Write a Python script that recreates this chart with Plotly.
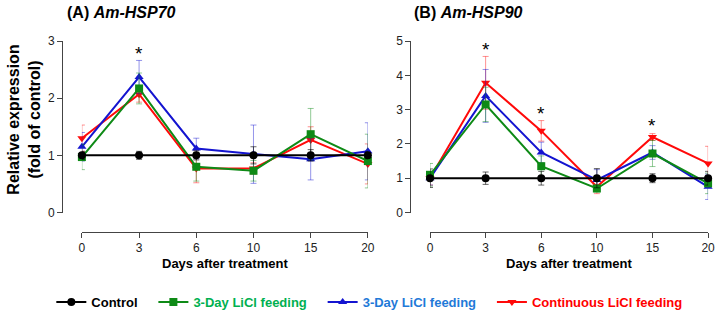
import plotly.graph_objects as go

days = ["0", "3", "6", "10", "15", "20"]
idx = list(range(len(days)))

series_names = ["Control", "3-Day LiCl feeding", "3-Day LiCl feeding", "Continuous LiCl feeding"]

ctrl_A = [1, 1, 1, 1, 1, 1]
ctrl_A_err = [0.07, 0.07, 0.08, 0.15, 0.10, 0.06]
green_A = [0.97, 2.17, 0.80, 0.73, 1.37, 0.90]
green_A_err = [0.22, 0.27, 0.25, 0.18, 0.45, 0.47]
blue_A = [1.15, 2.37, 1.12, 1.02, 0.93, 1.07]
blue_A_err = [0.25, 0.29, 0.18, 0.51, 0.36, 0.50]
red_A = [1.30, 2.07, 0.77, 0.77, 1.27, 0.85]
red_A_err = [0.23, 0.14, 0.25, 0.10, 0.23, 0.35]

ctrl_B = [1, 1, 1, 1, 1, 1]
ctrl_B_err = [0.27, 0.18, 0.20, 0.28, 0.13, 0.20]
green_B = [1.10, 3.15, 1.35, 0.70, 1.72, 0.85]
green_B_err = [0.33, 0.50, 0.30, 0.10, 0.38, 0.30]
blue_B = [1.00, 3.40, 1.75, 0.95, 1.75, 0.75]
blue_B_err = [0.20, 0.77, 0.30, 0.30, 0.20, 0.37]
red_B = [1.00, 3.78, 2.38, 0.75, 2.20, 1.43]
red_B_err = [0.20, 0.77, 0.30, 0.20, 0.10, 0.50]

stars_A = [(1, 2.79)]
stars_B = [(1, 4.74), (2, 2.90), (4, 2.53)]

FONT = "Liberation Sans, Arial, sans-serif"
W, H = 722, 317
ML, MR, MT, MB = 0, 0, 41, 80
PW, PH = W - ML - MR, H - MT - MB

def px(x):
    return (x - ML) / PW

def py(y):
    return (H - MB - y) / PH

styles = [
    dict(line="black", marker="black", sym="circle", err="rgba(0,0,0,0.6)", txt="black"),
    dict(line="#0e8a16", marker="#0e8a16", sym="square", err="rgba(14,138,22,0.45)", txt="#00b050"),
    dict(line="#1414d0", marker="#1414d0", sym="triangle-up", err="rgba(20,20,208,0.45)", txt="#1f7ad8"),
    dict(line="#ff0a0a", marker="#ff0a0a", sym="triangle-down", err="rgba(255,10,10,0.45)", txt="#ff0000"),
]

fig = go.Figure()

panels = [
    ("x", "y", [ctrl_A, green_A, blue_A, red_A], [ctrl_A_err, green_A_err, blue_A_err, red_A_err]),
    ("x2", "y2", [ctrl_B, green_B, blue_B, red_B], [ctrl_B_err, green_B_err, blue_B_err, red_B_err]),
]

pad = "\u00a0\u00a0\u00a0"
draw_order = [3, 2, 1, 0]
for p, (xa, ya, vals, errs) in enumerate(panels):
    for i in draw_order:
        s = styles[i]
        fig.add_trace(go.Scatter(
            x=idx, y=vals[i], xaxis=xa, yaxis=ya,
            mode="lines+markers",
            name=f"<b><span style='color:{s['txt']}'>{series_names[i]}</span></b>{pad}",
            legendgroup=f"g{i}", showlegend=(p == 0), legendrank=i + 1,
            line=dict(color=s["line"], width=2),
            marker=dict(color=s["marker"], symbol=s["sym"], size=8),
            error_y=dict(type="data", array=errs[i], color=s["err"], thickness=1, width=3),
            cliponaxis=False,
        ))

axis_common = dict(showgrid=False, zeroline=False, showline=True, linecolor="#444", linewidth=1,
                   ticks="outside", ticklen=5, tickcolor="#444",
                   tickfont=dict(family=FONT, size=12, color="#222"))

fig.update_layout(
    width=W, height=H,
    margin=dict(l=ML, r=MR, t=MT, b=MB),
    paper_bgcolor="white", plot_bgcolor="white",
    font=dict(family=FONT),
    xaxis=dict(domain=[px(80), px(370)], range=[0, 5], anchor="free", position=0,
               tickvals=idx, ticktext=days, **axis_common),
    yaxis=dict(domain=[py(217), 1], range=[0, 3], anchor="free", position=px(60),
               tickvals=[0, 1, 2, 3], **axis_common),
    xaxis2=dict(domain=[px(433), px(715)], range=[0, 5], anchor="free", position=0,
                tickvals=idx, ticktext=days, **axis_common),
    yaxis2=dict(domain=[py(217), 1], range=[0, 5], anchor="free", position=px(413),
                tickvals=[0, 1, 2, 3, 4, 5], **axis_common),
    legend=dict(orientation="h", x=px(49), y=py(309), xanchor="left", yanchor="middle",
                font=dict(family=FONT, size=13), traceorder="normal", itemwidth=30,
                bgcolor="rgba(0,0,0,0)"),
)

ann = []
for (sx, sy) in stars_A:
    ann.append(dict(x=sx, y=sy, xref="x", yref="y", text="*", showarrow=False,
                    font=dict(family=FONT, size=19, color="black")))
for (sx, sy) in stars_B:
    ann.append(dict(x=sx, y=sy, xref="x2", yref="y2", text="*", showarrow=False,
                    font=dict(family=FONT, size=19, color="black")))

ann.append(dict(x=px(63), y=py(12), xref="paper", yref="paper", xanchor="left", yanchor="middle",
                text="<b>(A) <i>Am-HSP70</i></b>", showarrow=False,
                font=dict(family=FONT, size=16, color="black")))
ann.append(dict(x=px(415), y=py(12), xref="paper", yref="paper", xanchor="left", yanchor="middle",
                text="<b>(B) <i>Am-HSP90</i></b>", showarrow=False,
                font=dict(family=FONT, size=16, color="black")))
ann.append(dict(x=px(21), y=py(122), xref="paper", yref="paper", xanchor="center", yanchor="middle",
                text="<b>Relative expression<br>(fold of control)</b>", textangle=-90, showarrow=False,
                font=dict(family=FONT, size=16, color="black")))
ann.append(dict(x=px(225), y=py(269), xref="paper", yref="paper", xanchor="center", yanchor="middle",
                text="<b>Days after treatment</b>", showarrow=False,
                font=dict(family=FONT, size=13, color="black")))
ann.append(dict(x=px(574), y=py(269), xref="paper", yref="paper", xanchor="center", yanchor="middle",
                text="<b>Days after treatment</b>", showarrow=False,
                font=dict(family=FONT, size=13, color="black")))
fig.update_layout(annotations=ann)

fig.write_html("out.html")
